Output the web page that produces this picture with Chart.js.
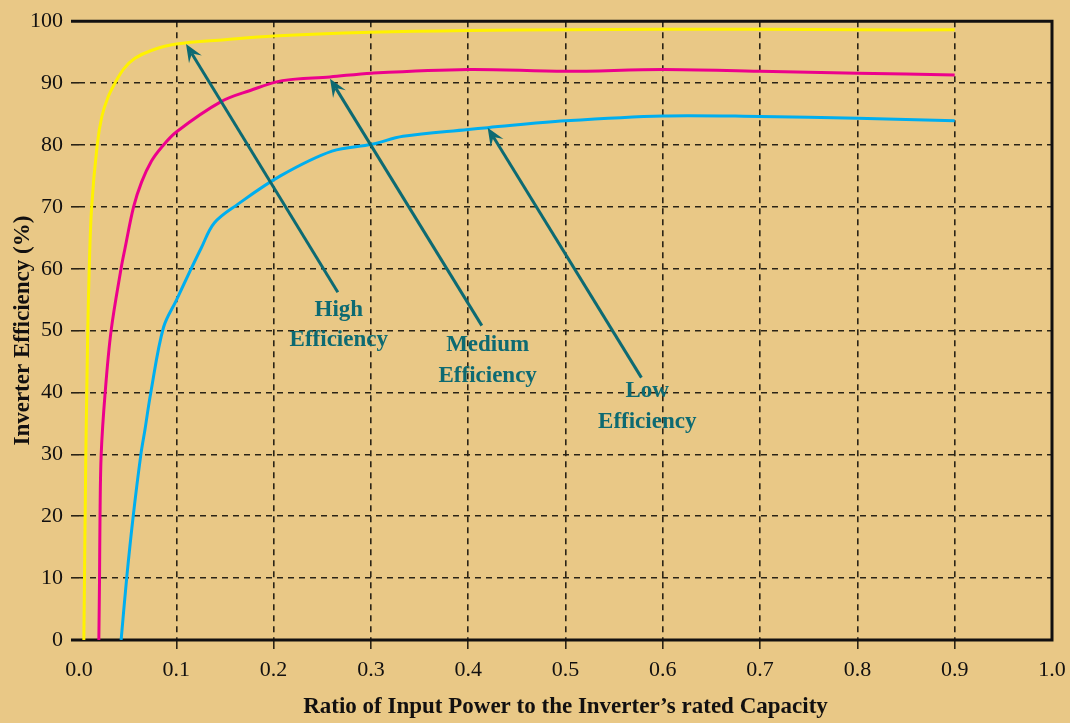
<!DOCTYPE html>
<html>
<head>
<meta charset="utf-8">
<title>Inverter Efficiency</title>
<script src="https://cdn.jsdelivr.net/npm/chart.js@4.4.1/dist/chart.umd.min.js"></script>
<style>
  html, body { margin: 0; padding: 0; background: #e9c886; }
  #wrap { width: 1070px; height: 723px; position: relative; }
</style>
</head>
<body>
<div id="wrap"><canvas id="efficiency-chart"></canvas></div>
<script>
// Curve values (x = power ratio, y = efficiency %)
const highX = [0.005, 0.007, 0.008, 0.009, 0.0105, 0.013, 0.0187, 0.0235, 0.03, 0.037, 0.046, 0.0575, 0.075, 0.1, 0.15, 0.2, 0.3, 0.4, 0.5, 0.6, 0.7, 0.8, 0.9];
const highY = [0, 30, 40, 50, 60, 70, 80, 84.6, 87.8, 90, 92.3, 94, 95.3, 96.3, 97.0, 97.6, 98.2, 98.5, 98.6, 98.7, 98.7, 98.6, 98.6];

const mediumX = [0.0204, 0.0211, 0.0216, 0.0228, 0.0269, 0.033, 0.0432, 0.0473, 0.0561, 0.0643, 0.0745, 0.0847, 0.1, 0.146, 0.176, 0.209, 0.258, 0.301, 0.4, 0.5, 0.6, 0.7, 0.8, 0.9];
const mediumY = [0, 10, 20, 30, 40, 50, 60, 63.3, 70, 74, 77.4, 79.6, 82.1, 87, 88.8, 90.4, 91.0, 91.6, 92.2, 91.9, 92.2, 91.9, 91.6, 91.3];

const lowX = [0.0433, 0.049, 0.0557, 0.0636, 0.0677, 0.0738, 0.0868, 0.1, 0.1153, 0.1255, 0.139, 0.163, 0.207, 0.26, 0.301, 0.333, 0.4, 0.42, 0.5, 0.6, 0.7, 0.8, 0.9];
const lowY = [0, 10, 20, 30, 33.9, 40, 50.5, 54.9, 60, 63.3, 67.4, 70.4, 75.0, 79.0, 80.1, 81.4, 82.5, 82.8, 83.9, 84.7, 84.6, 84.3, 83.9];

const xTicks = [0, 0.1, 0.2, 0.3, 0.4, 0.5, 0.6, 0.7, 0.8, 0.9, 1.0];
const yTicks = [0, 10, 20, 30, 40, 50, 60, 70, 80, 90, 100];

// Callout labels: text lines, label centre, arrow tail and arrow tip (data units)
const noteLines = [['High', 'Efficiency'], ['Medium', 'Efficiency'], ['Low', 'Efficiency']];
const noteAt = [[0.267, 53.3, 48.5], [0.420, 47.6, 42.7], [0.584, 40.2, 35.3]];
const arrowFrom = [[0.266, 56.2], [0.414, 50.8], [0.578, 42.4]];
const arrowTo = [[0.110, 96.3], [0.258, 90.7], [0.420, 82.8]];

const bgColor = '#e9c886';
const inkColor = '#121010';
const gridColor = '#2b2416';
const teal = '#0d6a72';
const serif = '"Liberation Serif", "Times New Roman", serif';

function toPoints(xs, ys) {
    return xs.map((x, i) => ({ x: x, y: ys[i] }));
}

// Paints the tan page, the solid frame and the teal callouts
const framePlugin = {
    id: 'frame',
    beforeDraw(chart) {
        const ctx = chart.ctx;
        ctx.save();
        ctx.fillStyle = bgColor;
        ctx.fillRect(0, 0, chart.width, chart.height);
        ctx.restore();
    },
    beforeDatasetsDraw(chart) {
        const { ctx, chartArea: a } = chart;
        ctx.save();
        ctx.strokeStyle = inkColor;
        ctx.lineWidth = 3;
        ctx.lineJoin = 'miter';
        ctx.beginPath();
        ctx.moveTo(a.left - 8, a.top);
        ctx.lineTo(a.right, a.top);
        ctx.lineTo(a.right, a.bottom);
        ctx.lineTo(a.left - 8, a.bottom);
        ctx.stroke();
        ctx.restore();
    },
    afterDatasetsDraw(chart) {
        const ctx = chart.ctx;
        const xs = chart.scales.x;
        const ys = chart.scales.y;
        ctx.save();
        ctx.strokeStyle = teal;
        ctx.fillStyle = teal;
        ctx.lineWidth = 3;
        for (let i = 0; i < arrowFrom.length; i++) {
            const x1 = xs.getPixelForValue(arrowFrom[i][0]);
            const y1 = ys.getPixelForValue(arrowFrom[i][1]);
            const x2 = xs.getPixelForValue(arrowTo[i][0]);
            const y2 = ys.getPixelForValue(arrowTo[i][1]);
            const ang = Math.atan2(y2 - y1, x2 - x1);
            const len = 18, half = 7.5, notch = 11;
            ctx.beginPath();
            ctx.moveTo(x1, y1);
            ctx.lineTo(x2 - notch * Math.cos(ang), y2 - notch * Math.sin(ang));
            ctx.stroke();
            // barbed head
            const bx = x2 - len * Math.cos(ang), by = y2 - len * Math.sin(ang);
            ctx.beginPath();
            ctx.moveTo(x2, y2);
            ctx.lineTo(bx + half * Math.sin(ang), by - half * Math.cos(ang));
            ctx.lineTo(x2 - notch * Math.cos(ang), y2 - notch * Math.sin(ang));
            ctx.lineTo(bx - half * Math.sin(ang), by + half * Math.cos(ang));
            ctx.closePath();
            ctx.fill();
        }
        ctx.font = 'bold 23px ' + serif;
        ctx.textAlign = 'center';
        ctx.textBaseline = 'middle';
        for (let i = 0; i < noteLines.length; i++) {
            const cx = xs.getPixelForValue(noteAt[i][0]);
            ctx.fillText(noteLines[i][0], cx, ys.getPixelForValue(noteAt[i][1]));
            ctx.fillText(noteLines[i][1], cx, ys.getPixelForValue(noteAt[i][2]));
        }
        ctx.restore();
    }
};

// Hide the grid lines that sit under the solid frame
function gridLineColor(ctx, edges) {
    if (ctx.tick && edges.includes(ctx.tick.value)) return 'rgba(0,0,0,0)';
    return gridColor;
}

const efficiencyChart = new Chart(document.getElementById('efficiency-chart'), {
    type: 'line',
    data: {
        datasets: [
            { label: 'High Efficiency', data: toPoints(highX, highY), borderColor: '#fff200' },
            { label: 'Medium Efficiency', data: toPoints(mediumX, mediumY), borderColor: '#ec008c' },
            { label: 'Low Efficiency', data: toPoints(lowX, lowY), borderColor: '#00aeef' }
        ]
    },
    options: {
        responsive: true,
        maintainAspectRatio: false,
        animation: false,
        layout: { padding: { top: 19, right: 18, left: 0, bottom: 0 } },
        elements: {
            line: { borderWidth: 3, fill: false, tension: 0.35 },
            point: { radius: 0, hoverRadius: 0 }
        },
        plugins: {
            legend: { display: false },
            tooltip: { enabled: false }
        },
        scales: {
            x: {
                type: 'linear',
                min: 0,
                max: 1,
                afterBuildTicks: s => { s.ticks = xTicks.map(v => ({ value: v })); },
                afterFit: s => { s.height = 83; s.paddingRight = 0; s.paddingLeft = 0; },
                ticks: {
                    callback: v => v.toFixed(1),
                    color: inkColor,
                    font: { family: serif, size: 22 },
                    padding: 8,
                    maxRotation: 0,
                    autoSkip: false
                },
                grid: {
                    color: ctx => gridLineColor(ctx, [0, 1]),
                    lineWidth: 1.6,
                    tickLength: 9,
                    drawTicks: true
                },
                border: { display: false, dash: [6, 5] },
                title: {
                    display: true,
                    text: 'Ratio of Input Power to the Inverter’s rated Capacity',
                    color: inkColor,
                    font: { family: serif, size: 23, weight: 'bold' },
                    padding: { top: 0, bottom: 2 }
                }
            },
            y: {
                min: 0,
                max: 100,
                afterBuildTicks: s => { s.ticks = yTicks.map(v => ({ value: v })); },
                afterFit: s => { s.width = 79; },
                ticks: {
                    callback: v => String(v),
                    color: inkColor,
                    font: { family: serif, size: 22 },
                    padding: 8
                },
                grid: {
                    color: ctx => gridLineColor(ctx, [0, 100]),
                    lineWidth: 1.6,
                    tickLength: 8,
                    drawTicks: true
                },
                border: { display: false, dash: [6, 5] },
                title: {
                    display: true,
                    text: 'Inverter Efficiency (%)',
                    color: inkColor,
                    font: { family: serif, size: 23, weight: 'bold' },
                    padding: { top: 9, bottom: 0 }
                }
            }
        }
    },
    plugins: [framePlugin]
});
</script>
</body>
</html>
